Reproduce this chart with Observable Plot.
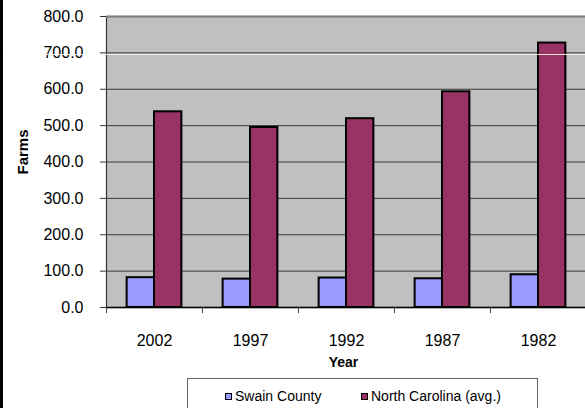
<!DOCTYPE html>
<html>
<head>
<meta charset="utf-8">
<script src="https://cdn.jsdelivr.net/npm/d3@7"></script>
<script src="https://cdn.jsdelivr.net/npm/@observablehq/plot@0.6"></script>
<style>
  html, body { margin: 0; padding: 0; background: #fff; overflow: hidden; width: 585px; height: 408px; }
  #wrap { position: relative; width: 585px; height: 408px; overflow: hidden; font-family: "Liberation Sans", Arial, sans-serif; }
  #chart { position: absolute; left: 0; top: 0; width: 600px; }
  #chart svg { max-width: none !important; height: 408px !important; }
  .leftbar { position: absolute; left: 0; top: 0; width: 3px; height: 408px; background: #000; }
  .streak { position: absolute; left: 3px; top: 54px; width: 582px; height: 1px; background: rgba(250,250,235,0.9); }
  .legend { position: absolute; left: 187px; top: 378px; width: 351px; height: 40px; border: 1px solid #666; background: #fff; box-sizing: border-box; font-size: 14px; color: #000; }
  .item { position: absolute; top: 9px; display: flex; align-items: center; white-space: nowrap; }
  .sw { width: 5px; height: 5px; border: 1.5px solid #000; margin-right: 3px; }
</style>
</head>
<body>
<div id="wrap">
  <div id="chart"></div>
  <div class="leftbar"></div>
  <div class="streak"></div>
  <div class="legend" id="legend"></div>
</div>
<script>
const years = ["2002", "1997", "1992", "1987", "1982"];
const swainCounty = [82, 78, 81, 79, 90];
const northCarolina = [538, 495, 519, 593, 727];
const seriesNames = ["Swain County", "North Carolina (avg.)"];
const seriesColors = ["#9999ff", "#993366"];
const yTicks = [0, 100, 200, 300, 400, 500, 600, 700, 800];

const swainData = years.map((y, i) => ({year: y, series: seriesNames[0], value: swainCounty[i]}));
const ncData = years.map((y, i) => ({year: y, series: seriesNames[1], value: northCarolina[i]}));

const W = 590, ML = 106, MR = 4;
const band = (W - ML - MR) / years.length;

const chart = Plot.plot({
  width: W,
  height: 408,
  marginLeft: ML,
  marginRight: MR,
  marginTop: 16,
  marginBottom: 101,
  style: {fontFamily: "'Liberation Sans', Arial, sans-serif", fontSize: "16px", color: "#000", background: "transparent", overflow: "visible", maxWidth: "none"},
  x: {domain: years, padding: 0, axis: null},
  y: {domain: [0, 800], axis: null},
  color: {domain: seriesNames, range: seriesColors},
  marks: [
    Plot.frame({fill: "#c0c0c0", stroke: "#333", strokeWidth: 1.2}),
    Plot.ruleY(yTicks.slice(1, -1), {stroke: "#3a3a3a", strokeWidth: 1}),
    Plot.ruleY([800], {stroke: "#808080", strokeWidth: 2}),
    Plot.axisY({ticks: yTicks, tickSize: 6, tickPadding: 17, tickFormat: d => d.toFixed(1), label: null, stroke: "#333", fontSize: 16}),
    Plot.barY(swainData, {x: "year", y: "value", fill: "series", stroke: "#000", strokeWidth: 2, insetLeft: band * 0.215, insetRight: band * 0.5}),
    Plot.barY(ncData, {x: "year", y: "value", fill: "series", stroke: "#000", strokeWidth: 2, insetLeft: band * 0.5, insetRight: band * 0.215}),
    Plot.ruleY([0], {stroke: "#000", strokeWidth: 1.5}),
    Plot.axisX({tickSize: 6, tickFormat: () => "", dx: -band / 2, label: null, stroke: "#444"}),
    Plot.axisX({tickSize: 0, tickPadding: 27, label: null, fontSize: 16}),
    Plot.text(["Farms"], {frameAnchor: "left", textAnchor: "middle", lineAnchor: "middle", dx: -83, dy: -10, rotate: -90, text: d => d, fontWeight: "bold", fontSize: 15}),
    Plot.text(["Year"], {frameAnchor: "bottom", textAnchor: "middle", lineAnchor: "middle", dx: -3, dy: 55, text: d => d, fontWeight: "bold", fontSize: 14})
  ]
});
document.getElementById("chart").appendChild(chart);

const legend = document.getElementById("legend");
const itemLefts = [37, 173];
seriesNames.forEach((name, i) => {
  const it = document.createElement("div");
  it.className = "item";
  it.style.left = itemLefts[i] + "px";
  const sw = document.createElement("span");
  sw.className = "sw";
  sw.style.background = seriesColors[i];
  it.appendChild(sw);
  const t = document.createElement("span");
  t.textContent = name;
  it.appendChild(t);
  legend.appendChild(it);
});
</script>
</body>
</html>
